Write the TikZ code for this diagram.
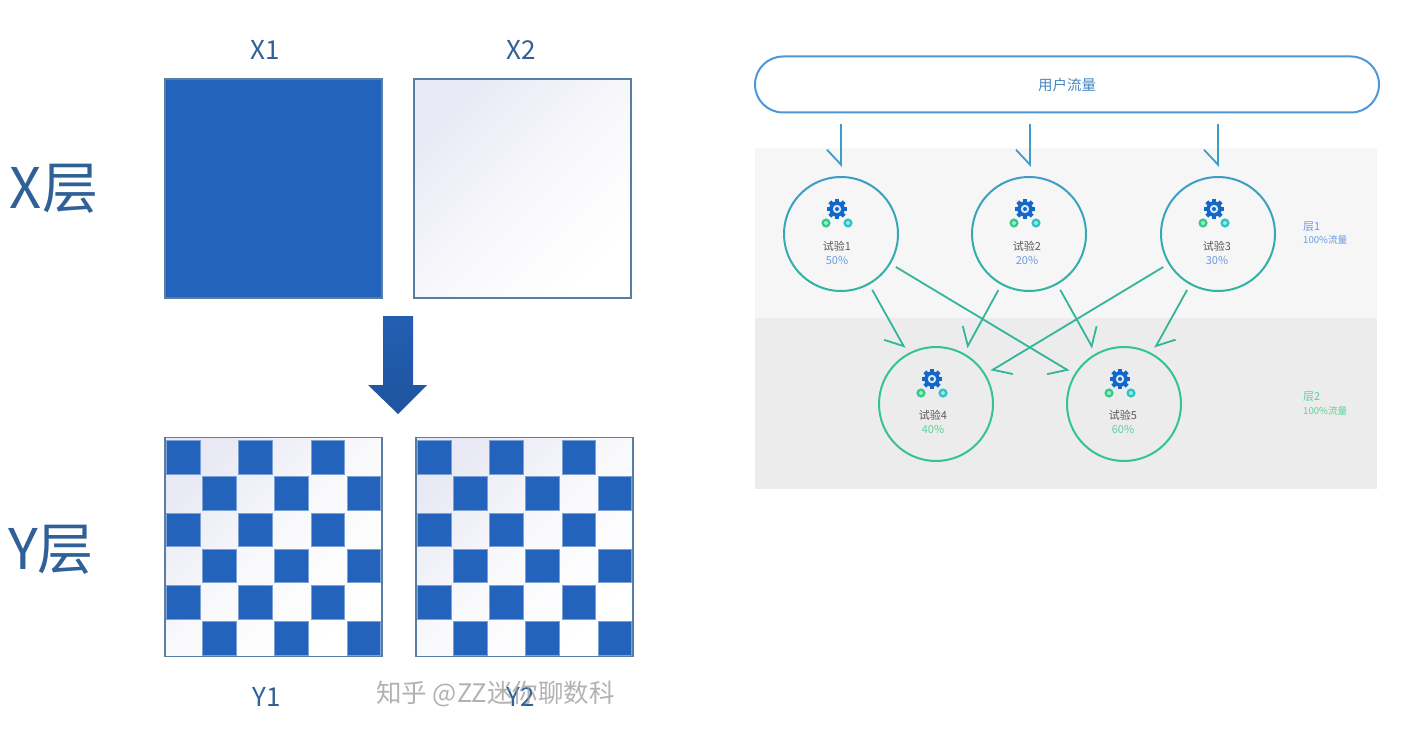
\documentclass[tikz,border=0pt]{standalone}
\usepackage{fontspec}
\setmainfont{Noto Sans CJK SC}
\usetikzlibrary{arrows.meta,calc,shapes.misc}
\definecolor{bluecell}{HTML}{2463BB}
\definecolor{frameblue}{HTML}{5A7DA3}
\definecolor{inkblue}{HTML}{2F6198}
\definecolor{pale}{HTML}{E8E9F4}
\definecolor{panela}{HTML}{F6F6F6}
\definecolor{panelb}{HTML}{ECECEC}
\definecolor{pillblue}{HTML}{4E97D8}
\definecolor{ringblue}{HTML}{3E9CC8}
\definecolor{ringteal}{HTML}{30B5A0}
\definecolor{ringgreen}{HTML}{35C48D}
\definecolor{edgeteal}{HTML}{33B59A}
\definecolor{gearblue}{HTML}{1268C8}
\definecolor{geargreen}{HTML}{32CC88}
\definecolor{gearteal}{HTML}{2CC4C4}
\definecolor{pctblue}{HTML}{6C9BE0}
\definecolor{pctgreen}{HTML}{5AD39C}
\definecolor{labgrey}{HTML}{5A5A5A}
\tikzset{
  px/.style={x=1pt,y=-1pt},
  square/.style={rectangle,draw=frameblue,line width=1.5pt,minimum width=217pt,minimum height=219pt,inner sep=0pt,outer sep=0pt},
  fadefill/.style={left color=pale,right color=white,middle color=#1,shading angle=45},
  bigtxt/.style={text=inkblue,font=\fontsize{56}{56}\selectfont,inner sep=0pt},
  captxt/.style={text=inkblue,font=\fontsize{26}{26}\selectfont,inner sep=0pt},
  expnode/.style={circle,minimum size=114pt,inner sep=0pt,outer sep=7pt},
  expname/.style={text=labgrey,font=\fontsize{11}{11}\selectfont,inner sep=0pt},
  exppct/.style={font=\fontsize{11}{11}\selectfont,inner sep=0pt},
  sidehead/.style={font=\fontsize{11}{11}\selectfont,inner sep=0pt,anchor=west},
  sidesub/.style={font=\fontsize{9.6}{9.6}\selectfont,inner sep=0pt,anchor=west},
  barbR/.style={-{Straight Barb[harpoon,swap,length=15pt,width=28pt]},line width=1.8pt},
  barbL/.style={-{Straight Barb[harpoon,length=15pt,width=28pt]},line width=1.8pt},
  bigcog/.pic={
    \foreach \r in {0,45,...,315}{\fill[gearblue,rotate=\r] (-2.1,-10.2) rectangle (2.1,-6);}
    \fill[gearblue] (0,0) circle (7.8);
    \fill[white!85!gearblue] (0,0) circle (4.2);
    \fill[gearblue] (0,0) circle (2);
  },
  smallcog/.pic={
    \fill[#1] (0,0) circle (4.6);
    \fill[#1!45!white] (0,0) circle (2);
  }
}
\newcommand{\cogset}[1]{%
  \pic at ($(#1)+(-4,-25)$) {bigcog};
  \pic at ($(#1)+(-15,-11)$) {smallcog=geargreen};
  \pic at ($(#1)+(7,-11)$) {smallcog=gearteal};
}
\newcommand{\checks}[1]{%
  \foreach \cx in {0,...,5}{\foreach \cy in {0,...,5}{%
    \pgfmathtruncatemacro{\odd}{mod(\cx+\cy,2)}%
    \ifnum\odd=0
      \fill[bluecell,draw=bluecell!60!white,line width=.8pt]
        ($(#1.north west)+(\cx*36.1+1.5,\cy*36.2+3)$) rectangle +(33.8,33.6);
    \fi
  }}%
}
\begin{document}
\begin{tikzpicture}[px]
\useasboundingbox (0,0) rectangle (1420,738);
\fill[white] (0,0) rectangle (1420,738);

% left part
\node[square,fill=bluecell] (x1) at (273.5,188.5) {};
\node[square,fadefill=white!65!pale] (x2) at (522.5,188.5) {};
\node[square,fadefill=white!75!pale] (y1) at (273.5,547) {};
\node[square,fadefill=white!75!pale] (y2) at (524.5,547) {};
\checks{y1}
\checks{y2}
\draw[frameblue,line width=1.5pt] (y1.north west) rectangle (y1.south east);
\draw[frameblue,line width=1.5pt] (y2.north west) rectangle (y2.south east);
\shade[top color=bluecell!95!black,bottom color=bluecell!85!black]
  (383,316) -- (413,316) -- (413,385) -- (427,385) -- (398,414) -- (368,385) -- (383,385) -- cycle;
\node[bigtxt] (xlayer) at (54,189) {X层};
\node[bigtxt] (ylayer) at (51,550) {Y层};
\node[captxt] (capx1) at (265,50) {X1};
\node[captxt] (capx2) at (521,50) {X2};
\node[captxt] (capy1) at (267,697) {Y1};
\node[captxt] (capy2) at (521,697) {Y2};
\node[text=black!40,opacity=.75,font=\fontsize{25.5}{25.5}\selectfont,inner sep=0pt] (mark) at (495.5,694) {知乎 @ZZ迷你聊数科};

% right part
\fill[panela] (755,148) rectangle (1377,318);
\fill[panelb] (755,318) rectangle (1377,489);
\node[rounded rectangle,draw=pillblue,line width=2pt,fill=white,minimum width=624pt,minimum height=56pt,inner sep=0pt,
  text=pillblue!90!black,font=\fontsize{14.5}{14.5}\selectfont] (user) at (1067,84.5) {用户流量};

\node[expnode] (e1) at (841,234) {};
\node[expnode] (e2) at (1029,234) {};
\node[expnode] (e3) at (1218,234) {};
\node[expnode] (e4) at (936,404) {};
\node[expnode] (e5) at (1124,404) {};

\foreach \c in {e1,e2,e3}{
  \foreach \a in {0,15,...,345}{
    \pgfmathtruncatemacro{\p}{50*(1-sin(\a+7.5))}
    \draw[ringblue!\p!ringteal,line width=2pt] ($(\c)+(\a:57)$) arc[start angle=\a,end angle=\a+15.5,radius=57];
  }
  \cogset{\c}
}
\foreach \c in {e4,e5}{
  \draw[ringgreen,line width=2pt] (\c) circle (57);
  \cogset{\c}
}

\node[expname] (n1) at (837,246) {试验1};
\node[exppct,text=pctblue] (p1) at (837,260) {50\%};
\node[expname] (n2) at (1027,246) {试验2};
\node[exppct,text=pctblue] (p2) at (1027,260) {20\%};
\node[expname] (n3) at (1217,246) {试验3};
\node[exppct,text=pctblue] (p3) at (1217,260) {30\%};
\node[expname] (n4) at (933,415) {试验4};
\node[exppct,text=pctgreen] (p4) at (933,429) {40\%};
\node[expname] (n5) at (1123,415) {试验5};
\node[exppct,text=pctgreen] (p5) at (1123,429) {60\%};

\coordinate (u1) at (841,124);
\coordinate (u2) at (1030,124);
\coordinate (u3) at (1218,124);
\draw[barbR,ringblue,shorten >=3pt] (u1) -- (e1.north);
\draw[barbR,ringblue,shorten >=3pt] (u2) -- (e2.north -| u2);
\draw[barbR,ringblue,shorten >=3pt] (u3) -- (e3.north);

\draw[barbR,edgeteal] (e1) -- (e4);
\draw[barbR,edgeteal] (e2) -- (e4);
\draw[barbL,edgeteal] (e3) -- (e4);
\draw[barbR,edgeteal] (e1) -- (e5);
\draw[barbL,edgeteal] (e2) -- (e5);
\draw[barbL,edgeteal] (e3) -- (e5);

\node[sidehead,text=pctblue] (s1) at (1303,227) {层1};
\node[sidesub,text=pctblue] (t1) at (1303,240) {100\%流量};
\node[sidehead,text=pctgreen] (s2) at (1303,397) {层2};
\node[sidesub,text=pctgreen] (t2) at (1303,411) {100\%流量};
\end{tikzpicture}
\end{document}
